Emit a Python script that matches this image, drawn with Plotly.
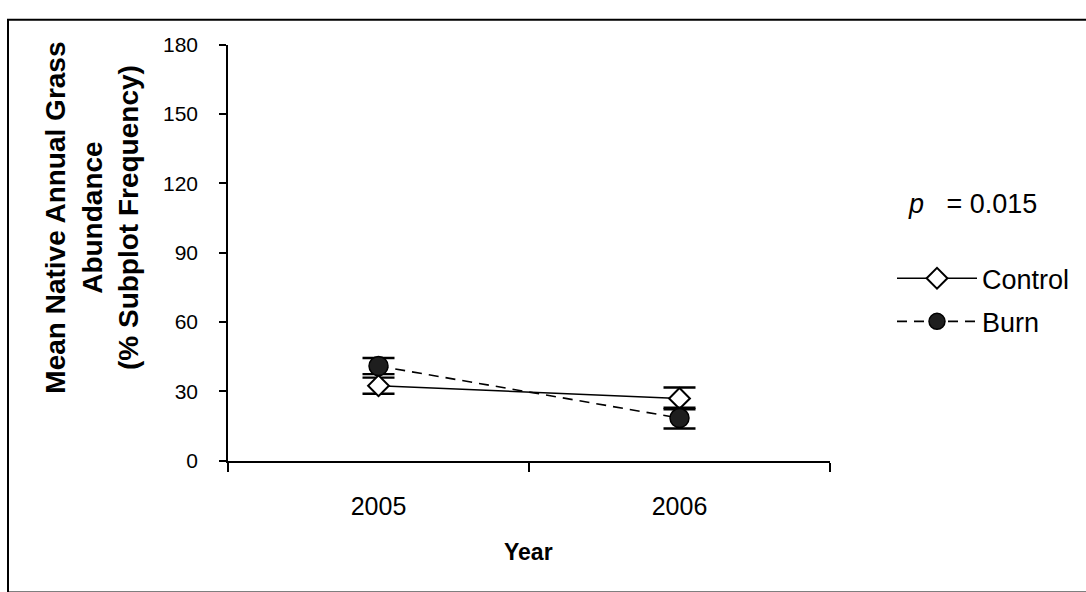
import plotly.graph_objects as go

# Data
years = ["2005", "2006"]
control_mean = [32.5, 27.0]
control_se = [3.5, 4.7]
burn_mean = [41.0, 18.5]
burn_se = [3.5, 4.5]
y_ticks = [0, 30, 60, 90, 120, 150, 180]
p_value = "0.015"

W, H = 1086, 592
FONT = "Liberation Sans, Arial, sans-serif"

# plot area in pixels
PX0, PX1 = 228, 830
PY_TOP, PY_BOT = 34, 467

fig = go.Figure()

fig.add_trace(go.Scatter(
    x=years, y=control_mean, name="Control", mode="lines+markers",
    line=dict(color="black", width=1.6),
    marker=dict(symbol="diamond", size=16, color="white",
                line=dict(color="black", width=2)),
    error_y=dict(type="data", array=control_se, visible=True,
                 color="black", thickness=2.4, width=16),
    legendgroup="c",
))
fig.add_trace(go.Scatter(
    x=years, y=burn_mean, name="Burn", mode="lines+markers",
    line=dict(color="black", width=1.6, dash="10px,7px"),
    marker=dict(symbol="circle", size=19, color="#1e1e1e",
                line=dict(color="black", width=1.5)),
    error_y=dict(type="data", array=burn_se, visible=True,
                 color="black", thickness=2.4, width=16),
    legendgroup="b",
))

fig.update_layout(
    width=W, height=H,
    margin=dict(l=0, r=0, t=0, b=0),
    paper_bgcolor="white", plot_bgcolor="white",
    font=dict(family=FONT, color="black"),
    showlegend=True,
    legend=dict(x=892 / W, y=1 - 252 / H, xanchor="left", yanchor="top",
                font=dict(size=27, family=FONT), bgcolor="rgba(0,0,0,0)",
                tracegroupgap=5, itemwidth=80),
    xaxis=dict(
        domain=[PX0 / W, PX1 / W],
        type="category", range=[-0.5, 1.5],
        showline=True, linecolor="black", linewidth=1.5,
        ticks="outside", tickson="boundaries", ticklen=9, tickwidth=1.5,
        tickcolor="black", showgrid=False, zeroline=False,
        tickfont=dict(size=25, family=FONT),
        ticklabelstandoff=22,
    ),
    yaxis=dict(
        domain=[1 - PY_BOT / H, 1 - PY_TOP / H],
        range=[0, 180], tickvals=y_ticks,
        showline=True, linecolor="black", linewidth=1.5,
        ticks="outside", ticklen=7, tickwidth=1.5, tickcolor="black",
        showgrid=False, zeroline=False,
        tickfont=dict(size=21, family=FONT),
        ticklabelstandoff=17,
    ),
    shapes=[
        # outer frame
        dict(type="rect", xref="paper", yref="paper",
             x0=8 / W, x1=1.02, y0=-0.02, y1=1 - 8 / H,
             line=dict(color="black", width=2), fillcolor="rgba(0,0,0,0)"),
    ],
    annotations=[
        dict(text="<b>Mean Native Annual Grass<br>Abundance<br>(% Subplot Frequency)</b>",
             xref="paper", yref="paper", x=92 / W, y=1 - 214 / H,
             textangle=-90, showarrow=False, font=dict(size=28, family=FONT),
             xanchor="center", yanchor="middle"),
        dict(text="<b>Year</b>", xref="paper", yref="paper",
             x=528 / W, y=1 - 562 / H, showarrow=False,
             font=dict(size=23, family=FONT), xanchor="center", yanchor="middle"),
        dict(text="<i>p</i>   = " + p_value, xref="paper", yref="paper",
             x=906 / W, y=1 - 200 / H, showarrow=False,
             font=dict(size=27, family=FONT), xanchor="left", yanchor="middle"),
    ],
)

fig.write_html("out.html")
